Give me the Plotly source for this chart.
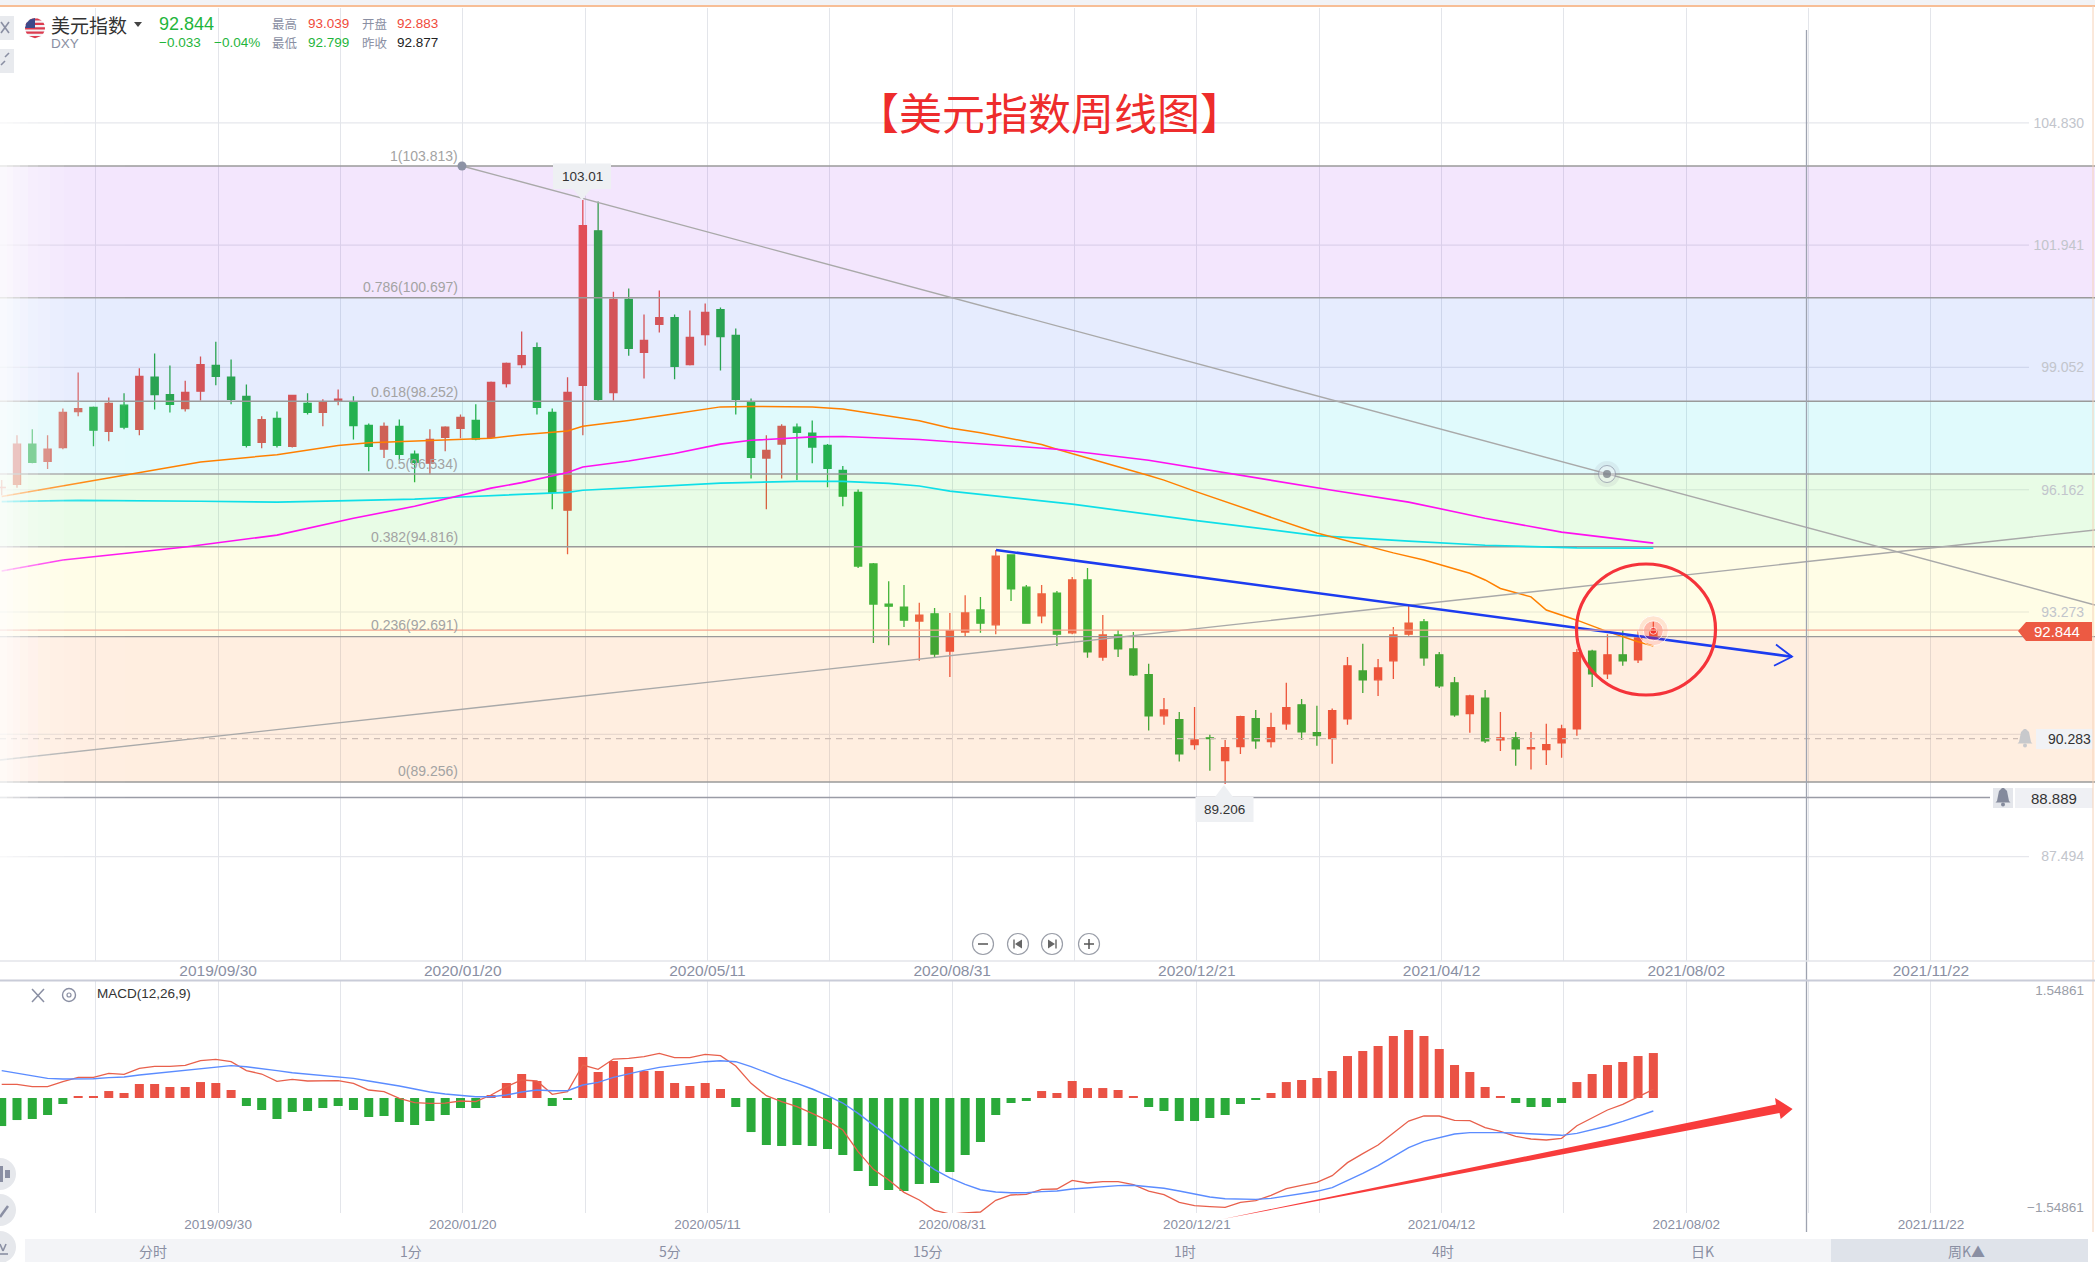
import math
import plotly.graph_objects as go

W, H = 2095, 1262
# ---------------- data ----------------
opens = [96.21,96.29,97.24,96.83,97.16,98.01,98.11,97.54,98.16,97.59,98.82,98.41,98.08,98.49,99.10,98.82,98.37,97.28,97.85,97.19,
         98.20,97.99,98.27,98.23,97.68,97.12,97.66,97.00,96.79,97.40,97.61,97.80,97.40,98.67,99.12,99.52,97.99,95.68,98.63,102.28,
         98.46,100.66,99.41,100.07,100.23,99.12,99.83,100.42,99.81,98.23,96.91,97.24,97.64,97.50,97.21,96.62,96.10,94.41,93.46,93.39,
         93.06,93.23,92.35,92.80,93.32,92.97,94.62,93.86,93.18,93.72,92.78,94.03,92.21,92.73,92.40,91.79,90.82,90.73,90.14,90.30,
         89.76,90.09,90.75,90.21,90.63,91.08,90.42,90.28,90.75,91.88,91.67,92.12,92.75,93.04,92.26,91.60,90.87,91.24,90.25,90.30,
         90.04,90.02,90.18,90.51,92.35,91.81,92.26,92.14,92.66]
highs = [96.39,97.45,97.59,97.45,98.08,98.93,98.13,98.34,98.44,99.03,99.38,99.10,98.74,99.31,99.66,99.24,98.65,97.90,98.01,98.40,
         98.44,98.30,98.53,98.37,97.73,97.75,97.82,97.09,97.59,97.66,97.94,98.18,98.72,99.17,99.90,99.64,98.08,98.82,103.01,102.97,
         100.84,100.92,100.30,100.87,100.30,100.40,100.56,100.47,99.97,98.32,97.45,97.71,97.73,97.80,97.24,96.72,96.17,94.43,94.00,93.91,
         93.49,93.37,93.25,93.67,93.63,94.74,94.64,93.91,93.91,93.77,94.10,94.31,93.20,92.85,92.80,92.05,91.24,90.91,91.03,90.37,
         90.25,90.82,90.96,90.89,91.60,91.22,91.06,90.99,92.21,92.52,92.16,92.92,93.44,93.11,92.33,91.74,91.32,91.43,90.91,90.44,
         90.44,90.63,90.61,92.40,92.38,92.75,92.85,92.82,93.04]
lows = [96.03,96.21,96.79,96.65,97.12,97.90,97.19,97.31,97.59,97.45,98.06,97.99,98.01,98.27,98.63,98.18,97.16,97.14,97.16,97.16,
        97.94,97.66,98.16,97.35,96.60,96.91,96.86,96.34,96.53,97.07,97.38,97.33,97.38,98.58,99.03,97.94,95.70,94.64,97.45,98.25,
        98.27,99.33,98.79,99.88,98.77,99.10,99.57,98.98,97.94,96.43,95.70,96.43,96.39,96.79,96.22,95.77,94.31,92.54,92.49,92.92,
        92.12,92.19,91.74,92.68,92.78,92.75,93.53,93.01,93.01,92.47,92.75,92.19,92.12,92.21,91.76,90.47,90.61,89.74,90.02,89.52,
        89.21,89.92,90.04,90.07,90.49,90.25,90.11,89.69,90.61,91.36,91.29,91.69,92.71,92.00,91.48,90.80,90.42,90.18,89.99,89.64,
        89.55,89.66,89.83,90.35,91.50,91.69,92.00,92.07,92.66]
closes = [96.22,97.24,96.81,97.12,97.99,98.08,97.57,98.20,97.64,98.84,98.41,98.18,98.46,99.12,98.84,98.30,97.21,97.82,97.21,98.39,
          97.99,98.23,98.30,97.68,97.19,97.66,97.00,96.81,97.35,97.64,97.87,97.36,98.70,99.15,99.33,98.11,96.10,98.46,102.40,98.30,
          100.66,99.50,99.69,100.23,99.08,99.76,100.35,99.78,98.30,96.93,97.09,97.66,97.52,97.17,96.67,96.01,94.36,93.46,93.41,93.08,
          93.20,92.28,92.83,93.25,93.01,94.59,93.82,93.01,93.70,92.75,94.03,92.33,92.73,92.40,91.79,90.82,90.96,89.92,90.25,90.28,
          90.07,90.80,90.23,90.54,91.01,90.44,90.35,90.94,92.00,91.67,91.95,92.73,93.01,92.19,91.53,90.84,91.29,90.23,90.30,90.04,
          90.07,90.14,90.51,92.31,91.81,92.26,92.12,92.66,92.82]

hist = [-.402,-.316,-.301,-.244,-.086,.029,.029,.100,.072,.201,.201,.158,.158,.229,.215,.115,-.115,-.172,-.301,-.201,
        -.186,-.143,-.115,-.172,-.272,-.258,-.344,-.387,-.330,-.244,-.143,-.143,.043,.215,.344,.244,-.115,-.029,.588,.373,
        .531,.445,.387,.387,.215,.172,.215,.129,-.129,-.488,-.674,-.688,-.674,-.688,-.731,-.817,-1.047,-1.262,-1.319,-1.334,
        -1.233,-1.219,-1.061,-.817,-.631,-.244,-.072,-.043,.100,.072,.244,.143,.143,.115,.029,-.129,-.186,-.330,-.330,-.287,
        -.244,-.086,-.029,.072,.229,.258,.287,.387,.602,.674,.746,.889,.975,.889,.703,.473,.373,.158,.029,-.072,
        -.129,-.129,-.072,.229,.344,.473,.516,.602,.645]
dif = [.196,.196,.163,.163,.234,.296,.296,.354,.339,.425,.454,.454,.468,.535,.554,.521,.392,.344,.239,.268,
       .244,.244,.249,.210,.115,.091,-.005,-.067,-.076,-.072,-.043,-.053,.043,.163,.258,.244,.053,.091,.473,.411,
       .559,.569,.593,.641,.578,.578,.626,.607,.459,.210,.033,-.053,-.124,-.220,-.325,-.459,-.770,-1.023,-1.176,-1.353,
       -1.463,-1.611,-1.664,-1.649,-1.635,-1.467,-1.391,-1.381,-1.310,-1.305,-1.181,-1.219,-1.200,-1.200,-1.243,-1.334,-1.386,-1.496,-1.544,-1.558,
       -1.568,-1.496,-1.472,-1.396,-1.300,-1.252,-1.209,-1.114,-.927,-.798,-.674,-.502,-.330,-.258,-.258,-.320,-.325,-.425,-.478,-.550,
       -.588,-.602,-.578,-.397,-.287,-.172,-.091,.019,.124]
dea = [.392,.354,.315,.282,.272,.272,.277,.292,.301,.330,.354,.373,.392,.421,.449,.464,.449,.425,.392,.363,
       .344,.325,.311,.282,.244,.210,.172,.129,.086,.057,.033,.019,.019,.043,.086,.115,.105,.105,.186,.225,
       .296,.349,.397,.440,.468,.492,.521,.535,.521,.449,.363,.282,.210,.129,.033,-.072,-.220,-.387,-.554,-.722,
       -.875,-1.028,-1.147,-1.238,-1.315,-1.348,-1.358,-1.358,-1.343,-1.334,-1.305,-1.286,-1.267,-1.257,-1.252,-1.271,-1.295,-1.334,-1.381,-1.420,
       -1.444,-1.453,-1.453,-1.439,-1.405,-1.377,-1.338,-1.286,-1.185,-1.080,-.970,-.841,-.712,-.621,-.564,-.516,-.497,-.492,-.497,-.502,
       -.516,-.531,-.535,-.507,-.459,-.402,-.335,-.263,-.186]

ma_orange_x = [0,3,6,9,13,18,22,24,28,32,34,37,38,41,44,47,49,53,55,58,60,62,64,68,69,75,76,78,82,86,91,93,96,97,98,100,101,103,105,107,108]
ma_orange_y = [96.0,96.19,96.37,96.56,96.82,96.99,97.21,97.27,97.33,97.38,97.46,97.55,97.66,97.80,97.96,98.12,98.13,98.12,98.07,97.90,97.79,97.62,97.51,97.23,97.12,96.50,96.39,96.13,95.64,95.14,94.67,94.50,94.19,94.03,93.83,93.63,93.32,93.08,92.81,92.57,92.47]
ma_magenta_x = [0,4,12,18,23,27,32,34,37,38,41,44,47,49,53,55,60,64,68,69,75,81,87,92,97,102,108]
ma_magenta_y = [94.24,94.50,94.81,95.09,95.49,95.77,96.2,96.33,96.57,96.70,96.84,97.02,97.24,97.33,97.41,97.42,97.35,97.24,97.13,97.12,96.86,96.50,96.15,95.87,95.49,95.16,94.90]
ma_cyan_x = [0,5,13,18,22,27,30,34,37,38,44,47,52,55,58,60,62,68,70,78,86,92,97,103,108]
ma_cyan_y = [95.88,95.91,95.89,95.87,95.90,95.94,95.99,96.06,96.10,96.15,96.27,96.32,96.36,96.36,96.31,96.25,96.13,95.89,95.82,95.44,95.08,94.95,94.85,94.79,94.78]

fib_levels = [103.813,100.697,98.252,96.534,94.816,92.691,89.256]
fib_names = ["1(103.813)","0.786(100.697)","0.618(98.252)","0.5(96.534)","0.382(94.816)","0.236(92.691)","0(89.256)"]
fib_fill = ["rgba(162,62,239,.13)","rgba(62,108,246,.13)","rgba(16,216,231,.13)","rgba(77,231,61,.13)","rgba(255,239,61,.13)","rgba(255,124,16,.13)"]
price_ticks = [104.830,101.941,99.052,96.162,93.273,90.383,87.494]
date_labels = ["2019/09/30","2020/01/20","2020/05/11","2020/08/31","2020/12/21","2021/04/12","2021/08/02","2021/11/22"]
tab_labels = ["分时","1分","5分","15分","1时","4时","日K","周K▲"]
last_price, alert_a, alert_b = 92.844, 90.283, 88.889
# -------------------------------------------------------------

n = len(closes)
idx = list(range(n))
PX_W = 15.293
px0 = 1.7
def X(px): return (px - px0) / PX_W
def YP(py): return 89.256 + (782 - py) / 42.32
xr = [X(0), X(W)]
RED = "rgb(235,80,65)"; GRN = "rgb(40,172,58)"
FONT = "Liberation Sans"; CJK = "Noto Sans CJK SC"
GRAY = "#8a8fa3"

tick_pos = [6.15 + 8 * k for k in range(17)]
tick_txt = []
di = 0
for k in range(17):
    if k % 2 == 1 and di < len(date_labels):
        tick_txt.append(date_labels[di]); di += 1
    else:
        tick_txt.append("")

def P(x, y): return f"{x/W:.5f},{1-y/H:.5f}"
def path(pts, close=True):
    s = "M" + " L".join(P(*p) for p in pts)
    return s + (" Z" if close else "")

shapes, ann = [], []
def rect(x0, y0, x1, y1, fill, layer="above", line=None, lw=0):
    shapes.append(dict(type="rect", xref="paper", yref="paper", x0=x0/W, x1=x1/W, y0=1-y0/H, y1=1-y1/H,
                       fillcolor=fill, line=dict(width=lw, color=line or fill), layer=layer))
def hline(x0, x1, y, color, w=1, dash="solid", layer="below"):
    shapes.append(dict(type="line", xref="paper", yref="paper", x0=x0/W, x1=x1/W, y0=1-y/H, y1=1-y/H,
                       line=dict(color=color, width=w, dash=dash), layer=layer))
def seg(x0, y0, x1, y1, color, w=1, layer="above"):
    shapes.append(dict(type="line", xref="paper", yref="paper", x0=x0/W, x1=x1/W, y0=1-y0/H, y1=1-y1/H,
                       line=dict(color=color, width=w), layer=layer))
def poly(pts, fill, line=None, lw=0, layer="above"):
    shapes.append(dict(type="path", xref="paper", yref="paper", path=path(pts), fillcolor=fill,
                       line=dict(color=line or fill, width=lw), layer=layer))
def circ(cx, cy, rx, ry=None, fill="rgba(0,0,0,0)", line="rgba(0,0,0,0)", lw=0, layer="above"):
    ry = ry or rx
    shapes.append(dict(type="circle", xref="paper", yref="paper", x0=(cx-rx)/W, x1=(cx+rx)/W, y0=1-(cy-ry)/H, y1=1-(cy+ry)/H,
                       fillcolor=fill, line=dict(color=line, width=lw), layer=layer))
def txt(x, y, s, size=13, color="#333", anchor="left", font=FONT):
    ann.append(dict(x=x/W, y=1-y/H, xref="paper", yref="paper", text=s, showarrow=False, xanchor=anchor, yanchor="middle",
                    font=dict(size=size, color=color, family=font), borderpad=0, borderwidth=0))

# horizontal grid of main pane
for v in price_ticks:
    py = 782 - (v - 89.256) * 42.32
    hline(0, 2029, py, "#e6e7ec", 1.2)

for s, py in zip(fib_names, [155.5, 287.5, 392, 463.6, 537, 625, 771]):
    txt(458, py, s, 14, "#a3a3a3", "right")

# price lines
shapes.append(dict(type="line", xref="paper", yref="y", x0=0, x1=2020/W, y0=last_price, y1=last_price,
                   line=dict(color="#f4a48f", width=1.3), layer="above"))
shapes.append(dict(type="line", xref="paper", yref="y", x0=0, x1=2018/W, y0=alert_a, y1=alert_a,
                   line=dict(color="#cdbdb5", width=1.2, dash="6px,5px"), layer="above"))
shapes.append(dict(type="line", xref="paper", yref="y", x0=0, x1=1990/W, y0=alert_b, y1=alert_b,
                   line=dict(color="#9a9ca6", width=1.4), layer="above"))

# crosshair
seg(1806.5, 30, 1806.5, 1232, "#9ea3b0", 1.3)

# left fade
for x1, a in [(7,.30),(13,.26),(20,.22),(28,.20),(38,.16),(50,.12),(64,.09),(80,.07),(100,.05),(125,.035)]:
    rect(0, 8, x1, 961, f"rgba(255,255,255,{a})")

# ellipse
circ(1646, 629.5, 69.5, 65.5, line="#f5333a", lw=3.2)

# tooltips
def tip(x0, y0, x1, y1, tx, ty, s, up):
    if up:
        pts = [(x0,y0),(tx-9,y0),(tx,ty),(tx+9,y0),(x1,y0),(x1,y1),(x0,y1)]
    else:
        pts = [(x0,y0),(x1,y0),(x1,y1),(tx+9,y1),(tx,ty),(tx-9,y1),(x0,y1)]
    poly(pts, "#eef0f3")
    txt((x0+x1)/2, (y0+y1)/2, s, 13.5, "#333", "center")
tip(553, 163.5, 611, 189, 582, 200, "103.01", False)
tip(1195.5, 797, 1253.5, 822, 1224, 785, "89.206", True)

# right-hand tags
poly([(2018,631),(2026,622),(2092,622),(2092,641),(2026,641)], "#ec5a43")
txt(2057, 631, "92.844", 15, "#fff", "center")
rect(2036, 729, 2093, 749, "#f1f2f5")
txt(2091, 739, "90.283", 14, "#333", "right")
rect(1993, 788, 2013, 808, "#e4e6eb")
rect(2015, 788, 2093, 808, "#eff0f4")
txt(2054, 798, "88.889", 15, "#333", "center")
def bell(cx, cy, color):
    poly([(cx-1,cy-9),(cx+1,cy-9),(cx+4,cy-6),(cx+5,cy-1),(cx+6,cy+4),(cx+7.5,cy+5.5),(cx-7.5,cy+5.5),(cx-6,cy+4),(cx-5,cy-1),(cx-4,cy-6)], color)
    circ(cx, cy+7.5, 2, fill=color)
bell(2003, 797, "#848a9c")
bell(2025, 738, "#c8c9cc")

# big red arrow in MACD
poly([(1223,1219),(1776,1104.5),(1775,1098),(1792.6,1109),(1780.7,1119),(1779.5,1113)], "#f83c3c")

# page furniture
rect(0, 0, W, 5, "#f2f3f6")
hline(0, W, 6, "#f5a873", 1.5, layer="above")
seg(2093, 6, 2093, 1232, "#f6d2b8", 1)
hline(0, W, 961, "#e3e5ea", 1.3, layer="above")
hline(0, W, 980.5, "#c9ccd8", 1.8, layer="above")
rect(25, 1239, 2088, 1262, "#f3f4f7")
rect(1831, 1239, 2088, 1262, "#dfe3ea")
for x_, s in zip([153, 411, 670, 928, 1185, 1443, 1702, 1966], tab_labels):
    txt(x_, 1250.5, s, 14, GRAY, "center", CJK)

# header
rect(0, 16, 14, 40, "#e8eaee"); seg(1, 22, 9, 33, "#8a8fa3", 1.6); seg(1, 33, 9, 22, "#8a8fa3", 1.6)
rect(0, 49, 14, 73, "#e8eaee"); seg(1, 65, 5, 61, "#8a8fa3", 1.6); seg(5, 57, 9, 53, "#8a8fa3", 1.6)
# flag
fx, fy, fr = 35, 28, 10
circ(fx, fy, fr, fill="#f3f3f6")
for k in range(5):
    y0 = fy - fr + k * 4.4 + 0.4; y1 = y0 + 2.2
    def hw(y): return math.sqrt(max(fr*fr - (y-fy)*(y-fy), 0))
    poly([(fx-hw(y0),y0),(fx+hw(y0),y0),(fx+hw(y1),y1),(fx-hw(y1),y1)], "#dc3b4e")
poly([(fx-8.6,fy-5),(fx-5,fy-8.6),(fx,fy-10),(fx,fy),(fx-10,fy)], "#3d4a8a")
txt(51, 25, "美元指数", 19, "#333", "left", CJK)
poly([(134,22),(142,22),(138,27)], "#444")
txt(51, 43, "DXY", 13.5, GRAY)
txt(159, 24, "92.844", 18, "#1fb53c")
txt(159, 42.5, "−0.033", 13.5, "#1fb53c")
txt(214, 42.5, "−0.04%", 13.5, "#1fb53c")
txt(272, 23, "最高", 12.5, GRAY, "left", CJK); txt(308, 23, "93.039", 13.5, "#f04a3a")
txt(362, 23, "开盘", 12.5, GRAY, "left", CJK); txt(397, 23, "92.883", 13.5, "#f04a3a")
txt(272, 42.5, "最低", 12.5, GRAY, "left", CJK); txt(308, 42.5, "92.799", 13.5, "#1fb53c")
txt(362, 42.5, "昨收", 12.5, GRAY, "left", CJK); txt(397, 42.5, "92.877", 13.5, "#222")
txt(1049, 111, "【美元指数周线图】", 43, "#ee2c2c", "center", CJK)
txt(2084, 1207, "−1.54861", 13.5, "#9a9ea8", "right")

# zoom buttons
for cx_ in [983, 1018, 1052, 1089]:
    circ(cx_, 944, 10.5, fill="#fff", line="#9a9ea8", lw=1.2)
seg(978, 944, 988, 944, "#555", 1.5)
seg(1084, 944, 1094, 944, "#555", 1.5); seg(1089, 939, 1089, 949, "#555", 1.5)
poly([(1022,939.5),(1015,944),(1022,948.5)], "#666"); seg(1014, 939.5, 1014, 948.5, "#666", 1.4)
poly([(1048,939.5),(1055,944),(1048,948.5)], "#666"); seg(1056, 939.5, 1056, 948.5, "#666", 1.4)

# macd header and left tools
seg(32, 989, 44, 1002, "#8a8fa3", 1.5); seg(44, 989, 32, 1002, "#8a8fa3", 1.5)
circ(69, 995, 6.5, line="#8a8fa3", lw=1.4); circ(69, 995, 2, line="#8a8fa3", lw=1.2)
txt(97, 993.5, "MACD(12,26,9)", 13.5, "#333")
for cy_ in [1174, 1210, 1247]:
    circ(0, cy_, 16, fill="#e6e8ec")
rect(0, 1166, 3, 1182, "#8a8fa3"); rect(5, 1170, 10, 1178, "#8a8fa3")
seg(0, 1217, 8, 1206, "#8a8fa3", 2.5)
seg(0, 1244, 3, 1251, "#8a8fa3", 1.6); seg(3, 1251, 6, 1244, "#8a8fa3", 1.6); seg(0, 1254, 8, 1254, "#8a8fa3", 1.6)

fig = go.Figure()
fig.add_trace(go.Candlestick(x=idx, open=opens, high=highs, low=lows, close=closes, whiskerwidth=0,
                             increasing=dict(line=dict(color=RED, width=1.3), fillcolor=RED),
                             decreasing=dict(line=dict(color=GRN, width=1.3), fillcolor=GRN),
                             hoverinfo="skip", xaxis="x", yaxis="y"))
def ln(x, y, color, w, **kw):
    fig.add_trace(go.Scatter(x=x, y=y, mode="lines", line=dict(color=color, width=w), hoverinfo="skip", **kw))
# translucent fibonacci bands drawn over the candles, under the indicator lines
for i, c in enumerate(fib_fill):
    fig.add_trace(go.Scatter(x=[xr[0], xr[1], xr[1], xr[0], xr[0]],
                             y=[fib_levels[i], fib_levels[i], fib_levels[i+1], fib_levels[i+1], fib_levels[i]],
                             mode="lines", line=dict(width=0), fill="toself", fillcolor=c, hoverinfo="skip"))
for lv in fib_levels:
    ln(xr, [lv, lv], "#9a9a9a", 1.4)
ln(ma_cyan_x, ma_cyan_y, "#0fdfe8", 1.7)
ln(ma_orange_x, ma_orange_y, "#ff8000", 1.5)
ln(ma_magenta_x, ma_magenta_y, "#ff10f0", 1.6)
# hand-drawn trend lines
ln([X(462), X(1607), X(2095)], [fib_levels[0], fib_levels[3], YP(605)], "#a9a9a9", 1.4)
ln([X(0), X(2095)], [YP(760), YP(530)], "#a9a9a9", 1.4)
ln([X(996), X(1792)], [YP(550), YP(656.7)], "#1c3cf0", 2.6)
ln([X(1776), X(1792), X(1774)], [YP(644.5), YP(656.7), YP(665.7)], "#1c3cf0", 1.8)
# markers
fig.add_trace(go.Scatter(x=[X(462)], y=[fib_levels[0]], mode="markers", marker=dict(size=9, color="#8d93a5"), hoverinfo="skip"))
fig.add_trace(go.Scatter(x=[X(1607)]*3, y=[fib_levels[3]]*3, mode="markers",
                         marker=dict(size=[26, 17, 8], color=["rgba(140,145,160,.18)", "rgba(255,255,255,.5)", "#70757f"],
                                     line=dict(width=[0, 1, 0], color="#8d93a5")), hoverinfo="skip"))
fig.add_trace(go.Scatter(x=[n-1]*3, y=[closes[-1]+.01]*3, mode="markers",
                         marker=dict(size=[30, 20, 7], color=["rgba(255,40,40,.16)", "rgba(255,40,40,.32)", "#f52a2a"]), hoverinfo="skip"))
# macd pane
fig.add_trace(go.Bar(x=idx, y=hist, width=0.59, marker=dict(color=["#ea5245" if v >= 0 else "#2aaa3a" for v in hist], line=dict(width=0)),
                     xaxis="x2", yaxis="y2", hoverinfo="skip"))
ln(idx, dif, "#e8604c", 1.3, xaxis="x2", yaxis="y2")
ln(idx, dea, "#5b8cff", 1.4, xaxis="x2", yaxis="y2")

axis_common = dict(range=xr, showgrid=True, gridcolor="#e3e5ea", gridwidth=1, zeroline=False, ticks="",
                   tickmode="array", tickvals=tick_pos, ticktext=tick_txt, showline=False, fixedrange=True)
fig.update_layout(
    width=W, height=H, margin=dict(l=0, r=0, t=0, b=0, pad=0), autosize=False,
    paper_bgcolor="white", plot_bgcolor="white", showlegend=False, boxgap=0.33, hovermode=False,
    font=dict(family=FONT),
    xaxis=dict(axis_common, domain=[0, 1], anchor="y", rangeslider=dict(visible=False),
               tickfont=dict(size=15.5, color=GRAY, family=FONT), ticklabelstandoff=-2),
    xaxis2=dict(axis_common, domain=[0, 1], anchor="y2",
                tickfont=dict(size=13.5, color=GRAY, family=FONT), ticklabelstandoff=1),
    yaxis=dict(domain=[1-961/H, 1-8/H], range=[YP(961), YP(8)], side="right", anchor="x", showgrid=False, zeroline=False,
               tickmode="array", tickvals=price_ticks, ticktext=[f"{v:.3f}" for v in price_ticks],
               ticklabelposition="inside", ticks="", ticklabelstandoff=8,
               tickfont=dict(size=14, color="#c2c5cc", family=FONT), fixedrange=True),
    yaxis2=dict(domain=[1-1213/H, 1-981/H], range=[-1.649, (1098-981)/69.73], side="right", anchor="x2", showgrid=False, zeroline=False,
                tickmode="array", tickvals=[1.54861], ticktext=["1.54861"],
                ticklabelposition="inside", ticks="", ticklabelstandoff=8,
                tickfont=dict(size=13.5, color="#9a9ea8", family=FONT), fixedrange=True),
    shapes=shapes, annotations=ann,
)
fig.write_html("out.html", config=dict(displayModeBar=False),
               post_script="document.body.style.margin='0';document.documentElement.style.overflow='hidden';")
